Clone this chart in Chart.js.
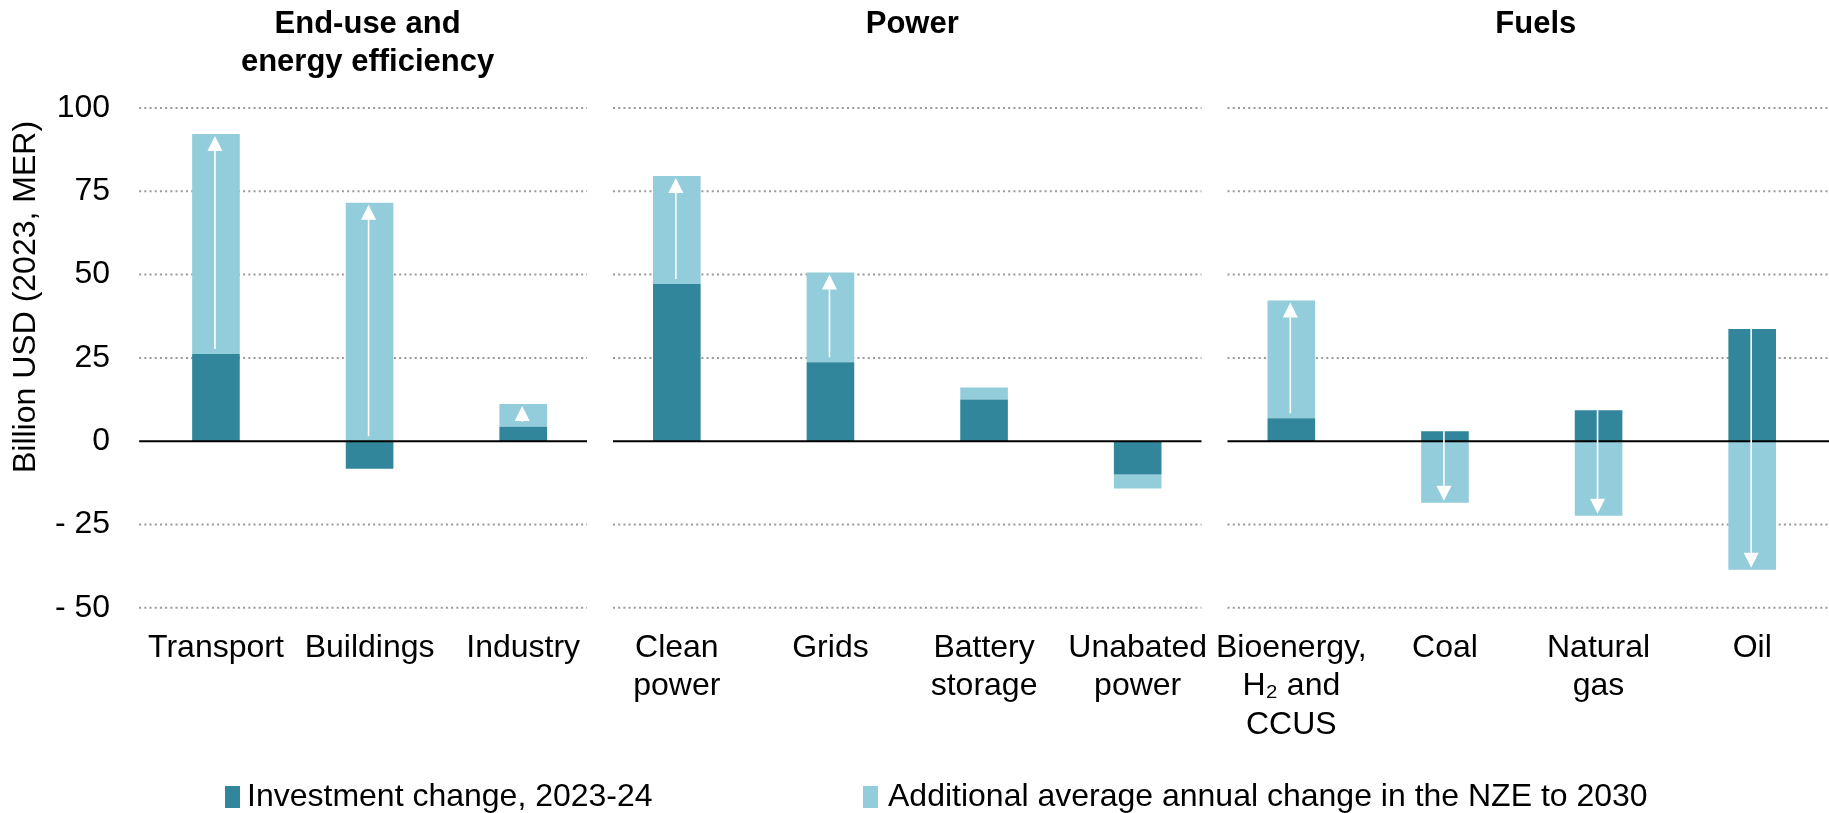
<!DOCTYPE html>
<html>
<head>
<meta charset="utf-8">
<script src="https://cdn.jsdelivr.net/npm/chart.js@4.4.1/dist/chart.umd.min.js"></script>
<style>
  html, body { margin: 0; padding: 0; background: #fff; }
  #wrap { position: relative; width: 1829px; height: 813px; }
</style>
</head>
<body>
<div id="wrap"><canvas id="investChart"></canvas></div>
<script>
const categories = ['Transport', 'Buildings', 'Industry', ['Clean', 'power'], 'Grids', ['Battery', 'storage'],
  ['Unabated', 'power'], ['Bioenergy,', 'H₂ and', 'CCUS'], 'Coal', ['Natural', 'gas'], 'Oil'];
const investmentChange = [26.2, -8.3, 4.3, 47.2, 23.7, 12.5, -10.0, 6.9, 3.0, 9.3, 33.7];
const additionalNZE = [66.0, 71.6, 6.9, 32.4, 26.9, 3.6, -4.2, 35.3, -18.5, -22.4, -38.6];
const hasArrow = [true, true, true, true, true, false, false, true, true, true, true];
const groupTitles = [['End-use and', 'energy efficiency'], ['Power'], ['Fuels']];
const groupSizes = [3, 4, 4];
const yTicks = [-50, -25, 0, 25, 50, 75, 100];
const seriesNames = ['Investment change, 2023-24', 'Additional average annual change in the NZE to 2030'];
const yTitle = 'Billion USD (2023, MER)';

const DARK = '#32869b';
const LIGHT = '#93cddb';
const FONT = "'Liberation Sans', Arial, sans-serif";
const titleShift = [-2, 5, 14];

// pixel x of the breaks between the three groups
function groupEdges(xs) {
  const edges = [];
  let idx = 0;
  for (let g = 0; g < groupSizes.length - 1; g++) {
    idx += groupSizes[g];
    edges.push((xs.getPixelForValue(idx - 1) + xs.getPixelForValue(idx)) / 2);
  }
  return edges;
}

function segments(chart) {
  const a = chart.chartArea;
  const segs = [];
  let start = a.left;
  groupEdges(chart.scales.x).forEach(e => {
    segs.push([start, e - 13]);
    start = e + 13;
  });
  segs.push([start, a.right]);
  return segs;
}

const splitGrid = {
  id: 'splitGrid',
  beforeDatasetsDraw(chart) {
    const { ctx, scales: { y } } = chart;
    const segs = segments(chart);
    ctx.save();
    ctx.strokeStyle = '#999';
    ctx.lineWidth = 2;
    ctx.setLineDash([2, 3.2]);
    yTicks.forEach(v => {
      if (v === 0) return;
      const py = y.getPixelForValue(v);
      segs.forEach(([x0, x1]) => {
        ctx.beginPath();
        ctx.moveTo(x0, py);
        ctx.lineTo(x1, py);
        ctx.stroke();
      });
    });
    ctx.restore();
  },
  afterDatasetsDraw(chart) {
    const { ctx, scales: { y } } = chart;
    const segs = segments(chart);
    const py = y.getPixelForValue(0);
    ctx.save();
    ctx.strokeStyle = '#000';
    ctx.lineWidth = 2;
    segs.forEach(([x0, x1]) => {
      ctx.beginPath();
      ctx.moveTo(x0, py);
      ctx.lineTo(x1, py);
      ctx.stroke();
    });

    // white arrows from the 2023-24 change to the NZE level
    const bars = chart.getDatasetMeta(1).data;
    ctx.strokeStyle = '#fff';
    ctx.fillStyle = '#fff';
    ctx.lineWidth = 1.6;
    hasArrow.forEach((on, i) => {
      if (!on) return;
      const up = additionalNZE[i] > 0;
      const base = Math.max(investmentChange[i], 0);
      const end = up ? base + additionalNZE[i] : Math.min(investmentChange[i], 0) + additionalNZE[i];
      const x = bars[i].x - 1;
      const y0 = y.getPixelForValue(base) + (up ? -5 : 0);
      const y1 = y.getPixelForValue(end) + (up ? 2 : -2);
      const dir = up ? 1 : -1;
      const head = 15;
      ctx.beginPath();
      ctx.moveTo(x, y0);
      ctx.lineTo(x, y1 + dir * head);
      ctx.stroke();
      ctx.beginPath();
      ctx.moveTo(x, y1);
      ctx.lineTo(x - 7.5, y1 + dir * head);
      ctx.lineTo(x + 7.5, y1 + dir * head);
      ctx.closePath();
      ctx.fill();
    });
    ctx.restore();
  },
  afterDraw(chart) {
    const { ctx, scales: { x } } = chart;
    ctx.save();
    ctx.fillStyle = '#000';
    ctx.textBaseline = 'middle';

    // group titles
    ctx.font = 'bold 31px ' + FONT;
    ctx.textAlign = 'center';
    let idx = 0;
    groupTitles.forEach((lines, g) => {
      const cx = (x.getPixelForValue(idx) + x.getPixelForValue(idx + groupSizes[g] - 1)) / 2 + titleShift[g];
      lines.forEach((t, k) => ctx.fillText(t, cx, 24 + k * 38));
      idx += groupSizes[g];
    });

    // y axis title
    ctx.font = '32px ' + FONT;
    ctx.save();
    ctx.translate(26, 297);
    ctx.rotate(-Math.PI / 2);
    ctx.fillText(yTitle, 0, 0);
    ctx.restore();

    // legend
    const items = [[225, 247], [863, 888]];
    ctx.textAlign = 'left';
    chart.data.datasets.forEach((ds, i) => {
      const [bx, tx] = items[i];
      ctx.fillStyle = ds.backgroundColor;
      ctx.fillRect(bx, 797 - 11, 15, 22);
      ctx.fillStyle = '#000';
      ctx.fillText(ds.label, tx, 797);
    });
    ctx.restore();
  }
};

new Chart(document.getElementById('investChart'), {
  type: 'bar',
  data: {
    labels: categories,
    datasets: [
      { label: seriesNames[0], data: investmentChange, backgroundColor: DARK,
        barPercentage: 0.31, categoryPercentage: 1.0 },
      { label: seriesNames[1], data: additionalNZE, backgroundColor: LIGHT,
        barPercentage: 0.31, categoryPercentage: 1.0 }
    ]
  },
  options: {
    responsive: true,
    maintainAspectRatio: false,
    animation: false,
    layout: { padding: { top: 108, left: 26, right: -4, bottom: 48 } },
    plugins: { legend: { display: false }, tooltip: { enabled: false } },
    scales: {
      x: {
        stacked: true,
        grid: { display: false, drawTicks: false },
        border: { display: false },
        ticks: { color: '#000', font: { family: FONT, size: 32, lineHeight: 1.2 },
                 padding: 21, maxRotation: 0, autoSkip: false }
      },
      y: {
        stacked: true,
        min: -50,
        max: 100,
        afterBuildTicks: axis => { axis.ticks = yTicks.map(v => ({ value: v })); },
        grid: { display: false, drawTicks: false },
        border: { display: false },
        ticks: { color: '#000', font: { family: FONT, size: 32 }, padding: 29,
                 callback: v => v < 0 ? '- ' + Math.abs(v) : String(v) }
      }
    }
  },
  plugins: [splitGrid]
});
</script>
</body>
</html>
